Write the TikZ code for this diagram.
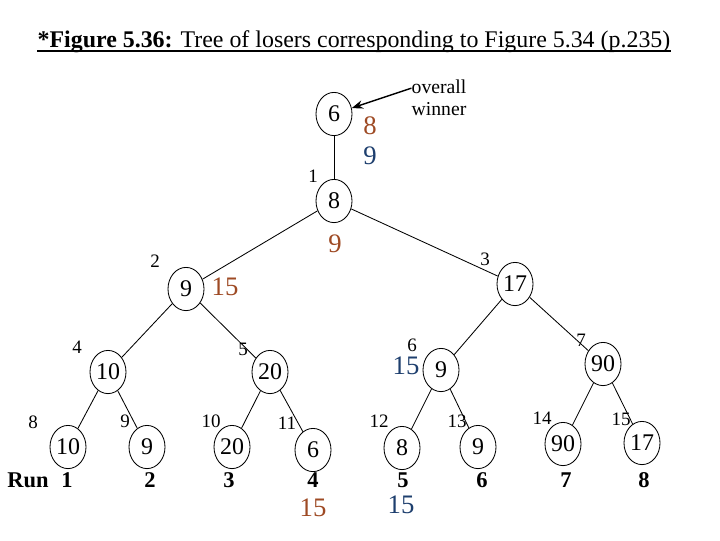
\documentclass[tikz,border=0pt]{standalone}
\usepackage{fontspec}
\setmainfont{Liberation Serif}
\usetikzlibrary{arrows.meta, shapes.geometric}
\definecolor{my_brown}{HTML}{9E4A24}
\definecolor{my_blue}{HTML}{1E3F6E}

\begin{document}
\begin{tikzpicture}[
    x=0.025cm, y=-0.025cm,
    tnode/.style={draw, ellipse, line width=0.6pt, inner sep=0pt,
        minimum width=0.9cm, minimum height=1.08cm,
        font=\fontsize{17}{17}\selectfont},
    idx/.style={inner sep=0pt, font=\fontsize{13.5}{13.5}\selectfont},
    runlabel/.style={inner sep=0pt, font=\fontsize{16}{16}\selectfont\bfseries},
    brownnum/.style={inner sep=0pt, text=my_brown, font=\fontsize{19}{19}\selectfont},
    bluenum/.style={inner sep=0pt, text=my_blue, font=\fontsize{19}{19}\selectfont},
    annotation/.style={draw, line width=1pt, -{Stealth[length=8pt, width=6pt]}}
]
\useasboundingbox (0,0) rectangle (720,540);

% ----------------------------------------------------------
% Titel
% ----------------------------------------------------------
\node[inner sep=0pt, anchor=base, font=\fontsize{17}{17}\selectfont] (title) at (354,47)
    {\textbf{*Figure 5.36:} Tree of losers corresponding to Figure 5.34 (p.235)};
\draw[line width=1.3pt] ([yshift=-3pt]title.base west) -- ([yshift=-3pt]title.base east);

% ----------------------------------------------------------
% Baum der Verlierer (Wurzel = Gesamtsieger)
% ----------------------------------------------------------
\node[tnode] (w) at (334,114) {6};
\foreach \k/\v/\px/\py in {1/8/334/201, 2/9/186/289, 3/17/515/284,
    4/10/108/372, 5/20/270/372, 6/9/441/370, 7/90/603/364,
    8/10/68/447, 9/9/147/447, 10/20/232/447, 11/6/313/450,
    12/8/402/448, 13/9/478/447, 14/90/563/444, 15/17/642/443} {
    \node[tnode] (n\k) at (\px,\py) {\v};
}

% Kanten
\draw[line width=0.6pt] (w) -- (n1);
\foreach \p/\c in {1/2, 1/3, 2/4, 2/5, 3/6, 3/7, 4/8, 4/9,
    5/10, 5/11, 6/12, 6/13, 7/14, 7/15} {
    \draw[line width=0.6pt] (n\p) -- (n\c);
}

% Knotennummern
\foreach \k/\px/\py in {1/313/176, 2/155/261, 3/485/259, 4/77/347,
    5/243/349, 6/412/345, 7/581/340, 8/33/422, 9/125/421, 10/211/421,
    11/287/423, 12/379/421, 13/457/421, 14/542/418, 15/621/419} {
    \node[idx] (i\k) at (\px,\py) {\k};
}

% Runs unter den Blaettern
\node[runlabel] (runword) at (28,480) {Run};
\foreach \k/\px in {1/67, 2/150, 3/229, 4/313, 5/403, 6/482, 7/566, 8/644} {
    \node[runlabel] (r\k) at (\px,480) {\k};
}

% ----------------------------------------------------------
% Naechste Schluessel (farbig)
% ----------------------------------------------------------
\node[brownnum] (b1) at (370,126) {8};
\node[bluenum]  (u1) at (370,156) {9};
\node[brownnum] (b2) at (335,244) {9};
\node[brownnum] (b3) at (225,287) {15};
\node[bluenum]  (u2) at (406,366) {15};
\node[brownnum] (b4) at (313,508) {15};
\node[bluenum]  (u3) at (401,505) {15};

% Gesamtsieger
\node[inner sep=0pt, align=center, font=\fontsize{14}{16}\selectfont] (ow) at (439,98)
    {overall\\winner};
\draw[annotation] ([yshift=7pt]ow.west) -- (w);

\end{tikzpicture}
\end{document}
